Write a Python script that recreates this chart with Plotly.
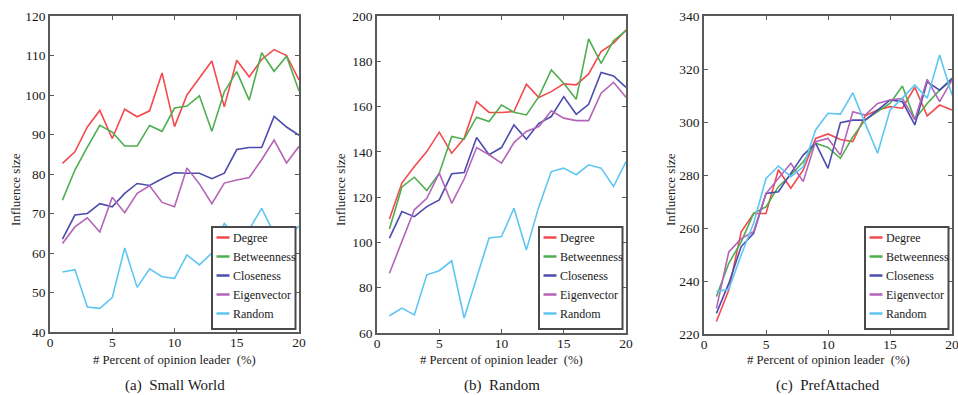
import plotly.graph_objects as go

W, H = 958, 395

pct = list(range(1, 21))
series_names = ["Degree", "Betweenness", "Closeness", "Eigenvector", "Random"]
colors = ["#f24a4e", "#4fae4f", "#4d4cae", "#b464b8", "#5ec6f2"]

# (a) Small World
sw_degree = [82.7, 85.6, 91.9, 96.1, 89.0, 96.4, 94.5, 96.0, 105.6, 92.0, 100.0, 104.2, 108.6, 97.0, 108.8, 104.6, 109.0, 111.5, 110.0, 103.8]
sw_between = [73.4, 81.0, 86.8, 92.3, 90.6, 87.1, 87.1, 92.3, 90.8, 96.7, 97.2, 99.8, 90.8, 100.8, 105.9, 98.7, 110.7, 106.0, 109.8, 101.0]
sw_close = [63.5, 69.6, 70.0, 72.5, 71.7, 75.1, 77.6, 77.1, 78.8, 80.3, 80.2, 80.2, 78.8, 80.2, 86.2, 86.7, 86.7, 94.6, 91.9, 89.8]
sw_eigen = [62.4, 66.6, 68.9, 65.3, 74.1, 70.2, 75.1, 77.0, 72.8, 71.7, 81.5, 77.5, 72.5, 77.7, 78.5, 79.1, 83.6, 88.6, 82.8, 87.0]
sw_random = [55.2, 55.8, 46.3, 46.0, 48.7, 61.3, 51.3, 56.0, 54.0, 53.6, 59.5, 57.0, 60.0, 67.5, 64.0, 66.0, 71.3, 65.0, 64.0, 66.8]

# (b) Random
rd_degree = [110.3, 126.2, 133.5, 140.1, 148.7, 139.4, 146.0, 162.2, 157.4, 157.4, 157.8, 169.9, 164.0, 166.6, 170.0, 169.6, 174.4, 184.3, 188.0, 193.8]
rd_between = [105.9, 124.5, 128.8, 122.9, 130.6, 146.8, 145.6, 155.3, 153.4, 160.7, 157.5, 156.3, 164.4, 176.2, 170.3, 163.2, 189.9, 179.1, 189.1, 193.5]
rd_close = [101.9, 113.6, 111.4, 115.8, 118.8, 130.3, 130.9, 146.3, 138.7, 141.9, 151.9, 145.6, 152.6, 155.6, 164.4, 156.6, 161.0, 175.1, 173.5, 168.5]
rd_eigen = [86.4, 100.0, 114.4, 119.5, 130.6, 117.3, 128.0, 141.9, 138.7, 135.0, 144.1, 149.0, 151.2, 158.1, 154.9, 153.8, 153.8, 165.9, 170.7, 164.1]
rd_random = [67.6, 71.0, 68.0, 85.7, 87.5, 91.9, 66.6, 84.0, 102.0, 102.6, 115.1, 96.7, 115.8, 131.3, 132.8, 129.9, 134.3, 132.8, 124.7, 135.7]

# (c) PrefAttached
pa_degree = [224.7, 236.6, 258.6, 265.5, 265.5, 282.0, 275.0, 281.9, 293.8, 295.5, 293.4, 292.6, 302.3, 304.5, 305.8, 305.2, 313.1, 302.3, 306.4, 304.5]
pa_between = [234.1, 246.7, 254.8, 265.5, 268.0, 275.6, 280.0, 285.0, 292.0, 290.4, 286.3, 294.4, 300.8, 303.9, 307.0, 313.6, 301.0, 307.0, 312.0, 315.8]
pa_close = [227.8, 239.1, 253.0, 258.0, 273.0, 273.7, 280.6, 287.5, 292.0, 282.5, 299.7, 300.7, 300.7, 304.5, 308.3, 307.7, 298.9, 315.2, 312.0, 316.5]
pa_eigen = [229.7, 251.0, 256.0, 258.6, 273.0, 278.7, 284.4, 277.5, 292.6, 293.8, 287.5, 303.9, 302.6, 307.0, 308.3, 308.9, 300.8, 316.1, 307.7, 315.8]
pa_random = [236.0, 236.9, 249.8, 261.8, 278.7, 283.4, 279.4, 283.1, 297.0, 303.3, 303.0, 311.0, 299.5, 288.2, 304.5, 309.0, 314.0, 309.0, 325.3, 310.2]

panels = [
    dict(series=[sw_degree, sw_between, sw_close, sw_eigen, sw_random], yrange=[40, 120], dtick=10,
         caption="(a)\u00a0\u00a0Small World", px=(50, 299), py=(16, 332), ytitle_x=15),
    dict(series=[rd_degree, rd_between, rd_close, rd_eigen, rd_random], yrange=[60, 200], dtick=20,
         caption="(b)\u00a0\u00a0Random", px=(377, 626), py=(16, 333), ytitle_x=340),
    dict(series=[pa_degree, pa_between, pa_close, pa_eigen, pa_random], yrange=[220, 340], dtick=20,
         caption="(c)\u00a0\u00a0PrefAttached", px=(704, 952), py=(16, 334), ytitle_x=670),
]

FONT = "Liberation Serif"
AXC = "#5a5a5a"
TXT = "#1a1a1a"

def fx(p):
    return p / W

def fy(p):
    return 1 - p / H

fig = go.Figure()
layout = dict(width=W, height=H, margin=dict(l=0, r=0, t=0, b=0, autoexpand=False),
              template="none",
              paper_bgcolor="white", plot_bgcolor="white", showlegend=False,
              font=dict(family=FONT, color=TXT))
shapes = []
annotations = []

for i, p in enumerate(panels):
    sfx = "" if i == 0 else str(i + 1)
    xa, ya = "x" + sfx, "y" + sfx
    for name, vals, col in zip(series_names, p["series"], colors):
        fig.add_trace(go.Scatter(x=pct, y=vals, mode="lines", name=name,
                                 line=dict(color=col, width=1.6), xaxis=xa, yaxis=ya))
    common = dict(showline=True, linecolor=AXC, linewidth=1.5, mirror="ticks", ticks="inside",
                  ticklen=4, tickcolor=AXC, tickwidth=1, showgrid=False, zeroline=False,
                  automargin=False, ticklabeloverflow="allow",
                  tickfont=dict(family=FONT, size=13.5, color=TXT))
    layout["xaxis" + sfx] = dict(common, domain=[fx(p["px"][0]), fx(p["px"][1])], range=[0, 20],
                                 dtick=5, tick0=0, anchor=ya, ticklabelstandoff=-3)
    layout["yaxis" + sfx] = dict(common, domain=[fy(p["py"][1]), fy(p["py"][0])], range=p["yrange"],
                                 dtick=p["dtick"], tick0=p["yrange"][0], anchor=xa)
    cx = (p["px"][0] + p["px"][1]) / 2
    annotations.append(dict(text="# Percent of opinion leader\u00a0\u00a0(%)", x=fx(cx), y=fy(360),
                            xref="paper", yref="paper", showarrow=False,
                            font=dict(family=FONT, size=12.7, color=TXT), xanchor="center", yanchor="middle"))
    annotations.append(dict(text=p["caption"], x=fx(cx), y=fy(385), xref="paper", yref="paper",
                            showarrow=False, font=dict(family=FONT, size=15, color=TXT),
                            xanchor="center", yanchor="middle"))
    annotations.append(dict(text="Influence size", x=fx(p["ytitle_x"]), y=fy(190), xref="paper", yref="paper",
                            showarrow=False, textangle=-90, font=dict(family=FONT, size=13, color=TXT),
                            xanchor="center", yanchor="middle"))
    # legend box
    lx0 = p["px"][1] - 87
    lx1 = p["px"][1] - 3.5
    ly0, ly1 = 227, 329
    shapes.append(dict(type="rect", xref="paper", yref="paper", x0=fx(lx0), x1=fx(lx1), y0=fy(ly1), y1=fy(ly0),
                       line=dict(color="#4a4a4a", width=2), fillcolor="white"))
    for k, (name, col) in enumerate(zip(series_names, colors)):
        ry = 237.5 + k * 19
        shapes.append(dict(type="line", xref="paper", yref="paper", x0=fx(lx0 + 4.5), x1=fx(lx0 + 17.5),
                           y0=fy(ry), y1=fy(ry), line=dict(color=col, width=2.5)))
        annotations.append(dict(text=name, x=fx(lx0 + 19), y=fy(ry), xref="paper", yref="paper",
                                showarrow=False, font=dict(family=FONT, size=12, color=TXT),
                                xanchor="left", yanchor="middle"))

layout["shapes"] = shapes
layout["annotations"] = annotations
fig.update_layout(**layout)
fig.write_html("out.html")
